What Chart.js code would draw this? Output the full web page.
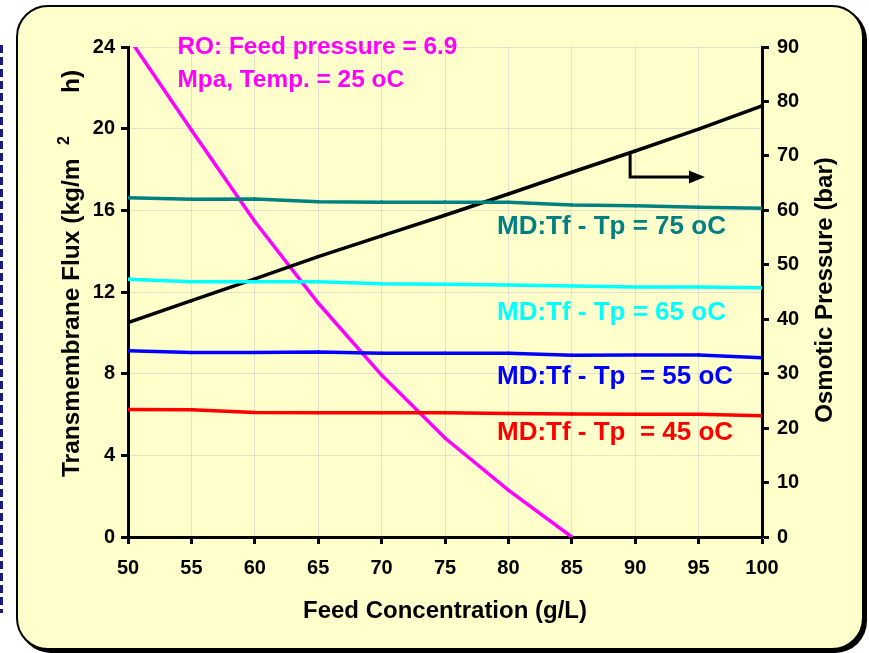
<!DOCTYPE html>
<html><head><meta charset="utf-8">
<script src="https://cdn.jsdelivr.net/npm/chart.js@4.4.0/dist/chart.umd.min.js"></script>
<style>
html,body{margin:0;padding:0;background:#fff;}
#wrap{position:relative;width:869px;height:653px;overflow:hidden;}
#box{position:absolute;left:16px;top:5px;width:844px;height:641px;background:#FFFFCC;border:2.5px solid #000;border-radius:32px;box-shadow:3px 3px 0 #000;}
#dash{position:absolute;left:0;top:45px;width:3px;height:568px;background:repeating-linear-gradient(to bottom,#1a1a80 0 8px,transparent 8px 12px);}
canvas{position:absolute;left:0;top:0;}
</style></head>
<body>
<div id="wrap"><div id="dash"></div><div id="box"></div><canvas id="c" width="869" height="653"></canvas></div>
<script>
const feedConc = [50,55,60,65,70,75,80,85,90,95,100];
const md75 = [16.62,16.54,16.55,16.42,16.4,16.4,16.39,16.26,16.22,16.15,16.1];
const md65 = [12.62,12.5,12.5,12.5,12.4,12.38,12.34,12.29,12.24,12.24,12.21];
const md55 = [9.12,9.04,9.04,9.06,9.0,9.0,9.0,8.9,8.92,8.92,8.78];
const md45 = [6.24,6.23,6.1,6.09,6.09,6.09,6.05,6.03,6.01,6.01,5.94];
const osmoticPressure = [39.4,43.4,47.4,51.5,55.3,59.1,63.0,67.0,70.9,74.9,79.2];
const roFeedConc = [50,55,60,65,70,75,80,85];
const roFlux = [24.5,19.93,15.45,11.46,7.93,4.85,2.3,0];

const leftTicks = {min:0,max:24,step:4};
const rightTicks = {min:0,max:90,step:10};
const xTicks = {min:50,max:100,step:5};

const roText = ["RO: Feed pressure = 6.9","Mpa, Temp. = 25 oC"];
const roTextPos = {x:53.9, y:[24.0,22.38]};
const mdLabels = [
  {text:"MD:Tf - Tp = 75 oC", color:"#008080", x:79.1, y:15.18},
  {text:"MD:Tf - Tp = 65 oC", color:"#00FFFF", x:79.1, y:10.97},
  {text:"MD:Tf - Tp  = 55 oC", color:"#0000FF", x:79.1, y:7.84},
  {text:"MD:Tf - Tp  = 45 oC", color:"#FF0000", x:79.1, y:5.09}
];
const arrow = {x:89.6, yTop:70.6, yBottom:66.1, xEnd:95.5};
const xTitle = "Feed Concentration (g/L)";
const yLeftTitle = ["Transmembrane Flux (kg/m", "2", "h)"];
const yRightTitle = "Osmotic Pressure (bar)";

const FONT = "'Liberation Sans', Arial, sans-serif";
const pts = (xs, ys) => ys.map((v,i)=>({x:xs[i], y:v}));
const mk = (label, xs, ys, color, axis) => ({
  label, data: pts(xs, ys), borderColor: color, backgroundColor: color,
  borderWidth: 3.5, pointRadius: 1.8, pointBorderWidth: 0, tension: 0, yAxisID: axis
});

const decor = {
  id:'decor',
  afterDraw(chart){
    const {ctx, chartArea:a, scales:{x, y, y2}} = chart;
    ctx.save();
    ctx.textBaseline = 'middle';
    ctx.textAlign = 'left';
    ctx.font = "bold 24.4px " + FONT;
    ctx.fillStyle = '#FF00FF';
    roText.forEach((t,i)=>ctx.fillText(t, x.getPixelForValue(roTextPos.x), y.getPixelForValue(roTextPos.y[i])));
    ctx.font = "bold 26px " + FONT;
    mdLabels.forEach(l=>{ctx.fillStyle=l.color; ctx.fillText(l.text, x.getPixelForValue(l.x), y.getPixelForValue(l.y));});
    // arrow
    const ax = x.getPixelForValue(arrow.x), ay1 = y2.getPixelForValue(arrow.yTop), ay2 = y2.getPixelForValue(arrow.yBottom), ax2 = x.getPixelForValue(arrow.xEnd);
    ctx.strokeStyle = '#000'; ctx.lineWidth = 3;
    ctx.beginPath(); ctx.moveTo(ax, ay1); ctx.lineTo(ax, ay2); ctx.lineTo(ax2-12, ay2); ctx.stroke();
    ctx.fillStyle = '#000';
    ctx.beginPath(); ctx.moveTo(ax2, ay2); ctx.lineTo(ax2-16, ay2-6.5); ctx.lineTo(ax2-16, ay2+6.5); ctx.closePath(); ctx.fill();
    // titles
    ctx.fillStyle = '#000';
    ctx.textAlign = 'center';
    ctx.font = "bold 24px " + FONT;
    ctx.fillText(xTitle, (a.left+a.right)/2, a.bottom + 74);
    ctx.save(); ctx.translate(a.right + 63, (a.top+a.bottom)/2 - 2); ctx.rotate(-Math.PI/2); ctx.fillText(yRightTitle, 0, 0); ctx.restore();
    // left title with superscript
    ctx.save(); ctx.translate(a.left - 58, a.bottom - 60); ctx.rotate(-Math.PI/2);
    ctx.textAlign = 'left'; ctx.textBaseline = 'alphabetic';
    ctx.font = "bold 24.5px " + FONT;
    ctx.fillText(yLeftTitle[0], 0, 9);
    ctx.font = "bold 16px " + FONT;
    ctx.fillText(yLeftTitle[1], 332, -1);
    ctx.font = "bold 24.5px " + FONT;
    ctx.fillText(yLeftTitle[2], 384, 9);
    ctx.restore();
    ctx.restore();
  }
};

const tickFont = {family: FONT, size: 20, weight: 'bold'};
new Chart(document.getElementById('c'), {
  type: 'line',
  data: {
    datasets: [
      mk('MD 75', feedConc, md75, '#008080', 'y'),
      mk('MD 65', feedConc, md65, '#00FFFF', 'y'),
      mk('MD 55', feedConc, md55, '#0000FF', 'y'),
      mk('MD 45', feedConc, md45, '#FF0000', 'y'),
      mk('Osmotic pressure', feedConc, osmoticPressure, '#000000', 'y2'),
      mk('RO flux', roFeedConc, roFlux, '#FF00FF', 'y')
    ]
  },
  options: {
    responsive: false, animation: false,
    layout: {padding: {top: 47, left: 0, right: 0, bottom: 0}},
    plugins: {legend: {display: false}, tooltip: {enabled: false}},
    scales: {
      x: {
        type: 'linear', min: xTicks.min, max: xTicks.max,
        ticks: {stepSize: xTicks.step, color: '#000', font: tickFont, padding: 12, maxRotation: 0},
        grid: {color: 'rgba(160,160,210,0.3)', lineWidth: 1, tickColor: '#000', tickLength: 7, tickWidth: 3},
        border: {color: '#000', width: 3},
        afterFit(s){ s.height = 116; }
      },
      y: {
        position: 'left', min: leftTicks.min, max: leftTicks.max,
        ticks: {stepSize: leftTicks.step, color: '#000', font: tickFont, padding: 6},
        grid: {color: 'rgba(160,160,210,0.3)', lineWidth: 1, tickColor: '#000', tickLength: 7, tickWidth: 3},
        border: {color: '#000', width: 3},
        afterFit(s){ s.width = 128; }
      },
      y2: {
        position: 'right', min: rightTicks.min, max: rightTicks.max,
        ticks: {stepSize: rightTicks.step, color: '#000', font: tickFont, padding: 8},
        grid: {drawOnChartArea: false, tickColor: '#000', tickLength: 7, tickWidth: 3},
        border: {color: '#000', width: 3},
        afterFit(s){ s.width = 107; }
      }
    }
  },
  plugins: [decor]
});
</script>
</body></html>
